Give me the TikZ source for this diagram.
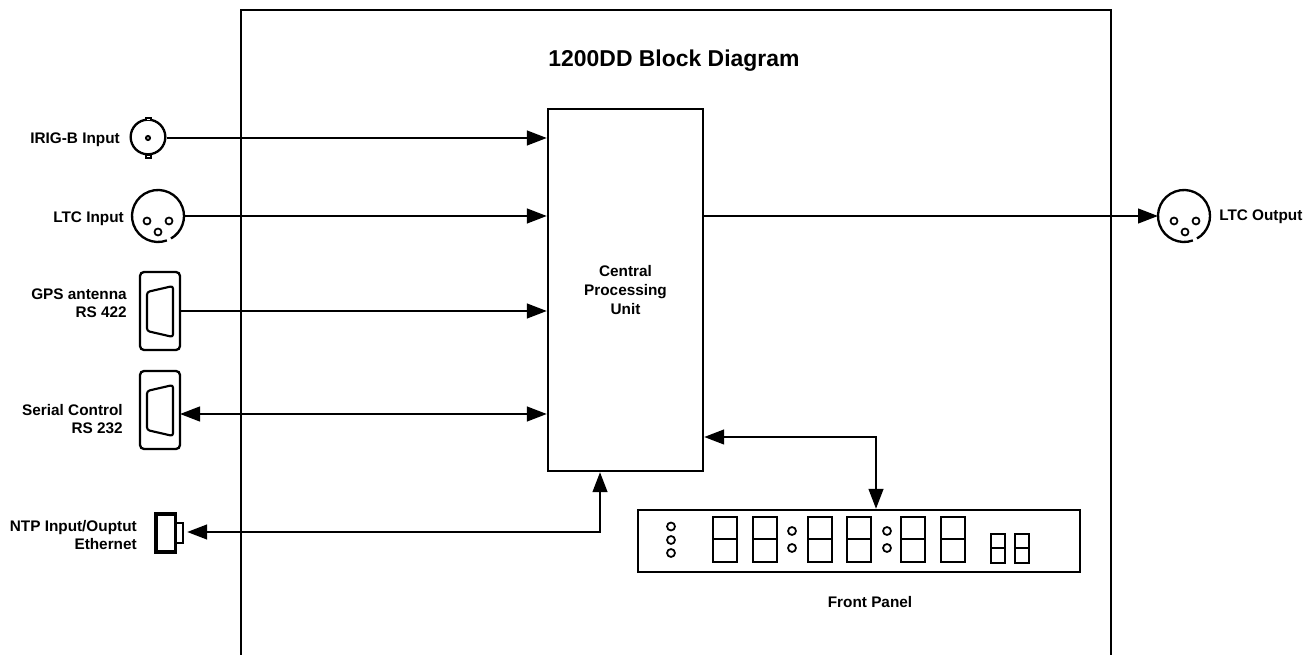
\documentclass[tikz,border=0pt]{standalone}
\usepackage{fontspec}
\setmainfont{Liberation Sans}
\usetikzlibrary{arrows.meta,calc}
\tikzset{
  x=0.75pt,y=-0.75pt,
  ln/.style={line width=1.75pt,draw=black},
  thin part/.style={line width=1.6pt,draw=black},
  lbl/.style={font=\bfseries\fontsize{11.5}{13.5}\selectfont,inner sep=0pt,align=right,anchor=east},
  clbl/.style={font=\bfseries\fontsize{11.5}{14}\selectfont,inner sep=0pt,align=center},
  conn/.style={line width=1.75pt,draw=black},
  tip/.style={-{Triangle[length=15pt,width=11pt]}},
  twotip/.style={{Triangle[length=15pt,width=11pt]}-{Triangle[length=15pt,width=11pt]}},
  anchorbox/.style={inner sep=0pt,outer sep=0pt,minimum width=#1},
  dsub/.style={ln,rounded corners=3pt,inner sep=0pt,outer sep=0pt,minimum width=30pt,minimum height=58.5pt},
  led/.style={line width=1.3pt,draw=black},
  segd/.style={line width=1.75pt,draw=black}
}
\begin{document}
\begin{tikzpicture}
\useasboundingbox (0,0) rectangle (1310,655);
% enclosure, open at the bottom
\draw[ln,line width=1.9pt] (241,660) -- (241,10) -- (1111,10) -- (1111,660);
\node[font=\bfseries\fontsize{17.2}{20}\selectfont,inner sep=0pt] (title) at (674,61) {1200DD Block Diagram};
% CPU
\node[ln,inner sep=0pt,minimum width=116.25pt,minimum height=271.5pt,clbl] (cpu) at (625.5,290) {Central\\Processing\\Unit};
% front panel
\node[ln,inner sep=0pt,minimum width=331.5pt,minimum height=46.5pt] (panel) at (859,541) {};
\node[clbl] (fp) at (870,602) {Front Panel};
\foreach \y in {526.5,540,553} \draw[led] (671,\y) circle[radius=4];
\foreach \x in {713,753,808,847,901,941}{
  \draw[segd] (\x,517) rectangle (\x+24,562);
  \draw[segd] (\x,539) -- (\x+24,539);
}
\foreach \x in {792,887}{
  \draw[led] (\x,531) circle[radius=4];
  \draw[led] (\x,548) circle[radius=4];
}
\foreach \x in {991,1015}{
  \draw[segd] (\x,534) rectangle (\x+14,563);
  \draw[segd] (\x,548) -- (\x+14,548);
}
% IRIG-B BNC
\node[ln,circle,inner sep=0pt,minimum size=26pt] (irig) at (148,137) {};
\draw[led,line width=1.5pt] (148,138) circle[radius=2];
\draw[led,line width=.8pt,fill=white] (146,118) rectangle (151,120.5);
\draw[led,line width=.8pt,fill=white] (146,155.5) rectangle (151,158);
\node[lbl] (lirig) at (120,140) {IRIG-B Input};
% LTC input XLR
\node[anchorbox=39pt,minimum height=39pt,circle] (ltcin) at (158,216) {};
\draw[ln] (ltcin.center) ++(70:26) arc[start angle=70,end angle=420,radius=26];
\foreach \p in {(147,221),(169,221),(158,232)} \draw[led] \p circle[radius=3.5];
\node[lbl] (lltcin) at (124,219) {LTC Input};
% LTC output XLR
\node[anchorbox=39pt,minimum height=39pt,circle] (ltcout) at (1184,216) {};
\draw[ln] (ltcout.center) ++(70:26) arc[start angle=70,end angle=420,radius=26];
\foreach \p in {(1174,221),(1196,221),(1185,232)} \draw[led] \p circle[radius=3.5];
\node[lbl,anchor=west] (lltcout) at (1219,217) {LTC Output};
% GPS D-sub
\node[dsub] (gps) at (160,311) {};
\draw[thin part,rounded corners=2pt] (147,292) -- (173,286) -- (173,337) -- (147,331) -- cycle;
\node[lbl] (lgps) at (127,303) {GPS antenna\\RS 422};
% Serial D-sub
\node[dsub] (ser) at (160,410) {};
\draw[thin part,rounded corners=2pt] (147,391) -- (173,385) -- (173,436) -- (147,430) -- cycle;
\node[lbl] (lser) at (123,419) {Serial Control\\RS 232};
% Ethernet
\node[draw=black,line width=2.5pt,inner sep=0pt,minimum width=14.5pt,minimum height=28.5pt] (eth) at (165.5,533) {};
\node[draw=black,line width=1.75pt,inner sep=0pt,minimum width=5.25pt,minimum height=15pt] (ethtab) at (179.5,533) {};
\node[lbl] (leth) at (137,535.5) {NTP Input/Ouptut\\Ethernet};
% connectors
\draw[conn,tip] (irig.east |- 0,138) -- (cpu.west |- 0,138);
\draw[conn,tip] (ltcin.center) ++(26,0) -- (cpu.west |- ltcin);
\draw[conn,tip] (cpu.east |- ltcout) -- ($(ltcout.center)+(-26,0)$);
\draw[conn,tip] (gps.east) -- (cpu.west |- gps);
\draw[conn,twotip] (ser.east |- 0,414) -- (cpu.west |- 0,414);
\draw[conn,twotip] (cpu.east |- 0,437) -| (panel.north -| 876,0);
\draw[conn,twotip] ($(ethtab.east)+(3,-1)$) -| (cpu.south -| 600,0);
\end{tikzpicture}
\end{document}
